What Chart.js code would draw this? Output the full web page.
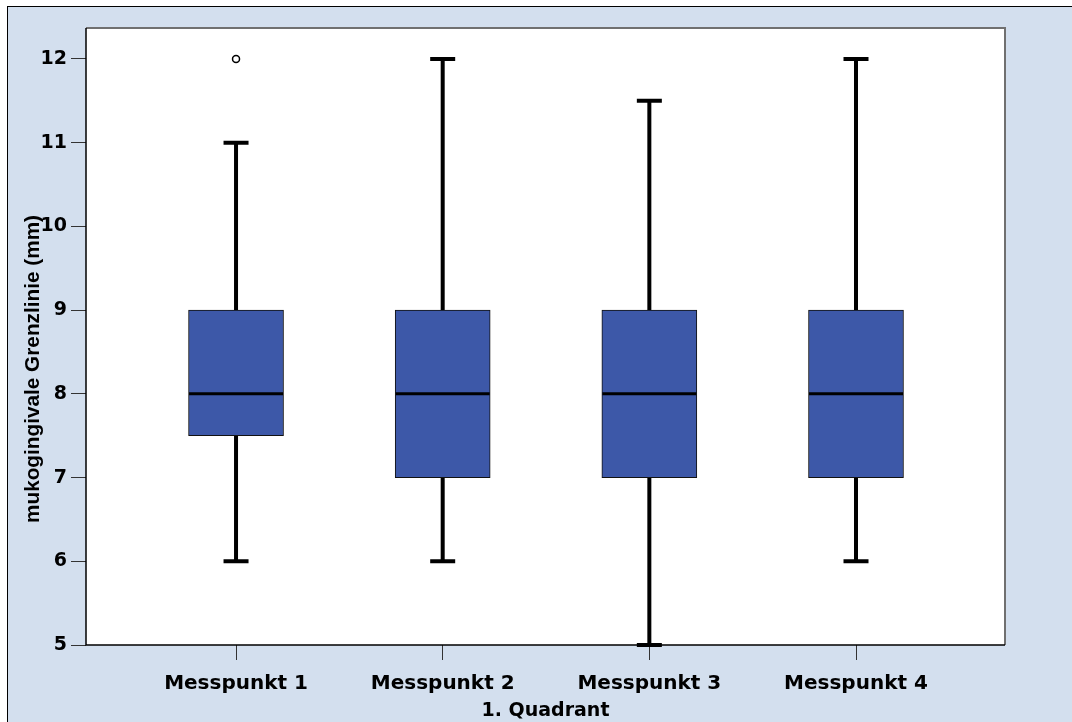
<!DOCTYPE html>
<html>
<head>
<meta charset="utf-8">
<script src="https://cdn.jsdelivr.net/npm/chart.js@4.4.1/dist/chart.umd.min.js"></script>
<style>
  html, body { margin: 0; padding: 0; background: #fff; }
  #wrap { position: relative; width: 1072px; height: 722px; overflow: hidden; }
  #frame { position: absolute; left: 7px; top: 6px; right: -2px; bottom: -2px;
           background: #d3dfee; border-top: 1px solid #000; border-left: 1px solid #000; }
  canvas { position: absolute; left: 0; top: 0; }
</style>
</head>
<body>
<div id="wrap">
  <div id="frame"></div>
  <canvas id="chart" width="1072" height="722"></canvas>
</div>
<script>
// Messpunkt data (mm)
const categories = ['Messpunkt 1', 'Messpunkt 2', 'Messpunkt 3', 'Messpunkt 4'];
const whiskerLow  = [6, 6, 5, 6];
const quartile1   = [7.5, 7, 7, 7];
const medians     = [8, 8, 8, 8];
const quartile3   = [9, 9, 9, 9];
const whiskerHigh = [11, 12, 11.5, 12];
const outliers    = [{ cat: 1, value: 12 }];
const yTicks      = [5, 6, 7, 8, 9, 10, 11, 12];

const xTitle = '1. Quadrant';
const yTitle = 'mukogingivale Grenzlinie (mm)';

const boxColor = '#3d58a8';
const tickFont = { family: '"DejaVu Sans", sans-serif', weight: 'bold', size: 20 };

const boxData = categories.map((c, i) => ({ x: i + 1, y: [quartile1[i], quartile3[i]] }));
const outlierData = outliers.map(o => ({ x: o.cat, y: o.value }));

// plot background, frame, whiskers, medians, y title
const boxPlotParts = {
  id: 'boxPlotParts',
  beforeDatasetsDraw(chart) {
    const { ctx, chartArea: a, scales: { x, y } } = chart;
    ctx.save();
    ctx.fillStyle = '#fff';
    ctx.fillRect(a.left, a.top, a.right - a.left, a.bottom - a.top);
    ctx.strokeStyle = '#000';
    ctx.lineWidth = 4;
    categories.forEach((c, i) => {
      const px = x.getPixelForValue(i + 1);
      ctx.beginPath();
      ctx.moveTo(px, y.getPixelForValue(whiskerLow[i]));
      ctx.lineTo(px, y.getPixelForValue(quartile1[i]));
      ctx.moveTo(px, y.getPixelForValue(quartile3[i]));
      ctx.lineTo(px, y.getPixelForValue(whiskerHigh[i]));
      ctx.stroke();
      ctx.beginPath();
      [whiskerLow[i], whiskerHigh[i]].forEach(v => {
        const py = y.getPixelForValue(v);
        ctx.moveTo(px - 12.5, py);
        ctx.lineTo(px + 12.5, py);
      });
      ctx.stroke();
    });
    ctx.restore();
  },
  afterDatasetsDraw(chart) {
    const { ctx, chartArea: a, scales: { x, y } } = chart;
    ctx.save();
    ctx.strokeStyle = '#000';
    ctx.lineWidth = 3;
    categories.forEach((c, i) => {
      const px = x.getPixelForValue(i + 1);
      const py = y.getPixelForValue(medians[i]);
      ctx.beginPath();
      ctx.moveTo(px - 47, py);
      ctx.lineTo(px + 47, py);
      ctx.stroke();
    });
    // plot frame
    ctx.lineWidth = 2;
    ctx.strokeStyle = '#707070';
    ctx.beginPath();
    ctx.moveTo(a.left, a.top);
    ctx.lineTo(a.right, a.top);
    ctx.lineTo(a.right, a.bottom);
    ctx.stroke();
    ctx.lineWidth = 1.5;
    ctx.strokeStyle = '#000';
    ctx.beginPath();
    ctx.moveTo(a.left, a.top);
    ctx.lineTo(a.left, a.bottom);
    ctx.lineTo(a.right, a.bottom);
    ctx.stroke();
    // y axis title (condensed bold, as in the original)
    ctx.translate(33, 369);
    ctx.rotate(-Math.PI / 2);
    ctx.font = 'bold 21px "Liberation Sans", Arial, sans-serif';
    ctx.fillStyle = '#000';
    ctx.textAlign = 'center';
    ctx.textBaseline = 'middle';
    const w = ctx.measureText(yTitle).width;
    ctx.scale(308 / w, 1);
    ctx.fillText(yTitle, 0, 0);
    ctx.restore();
  }
};

new Chart(document.getElementById('chart'), {
  type: 'bar',
  data: {
    datasets: [{
      label: 'Box',
      data: boxData,
      backgroundColor: boxColor,
      borderColor: '#111',
      borderWidth: 1,
      borderSkipped: false,
      barThickness: 95,
      order: 2
    }, {
      type: 'scatter',
      label: 'Ausreißer',
      data: outlierData,
      pointStyle: 'circle',
      pointRadius: 3.5,
      pointBorderWidth: 1.5,
      pointBackgroundColor: '#fff',
      pointBorderColor: '#000',
      order: 1
    }]
  },
  options: {
    responsive: false,
    animation: false,
    layout: { padding: { left: 0, right: 67, top: 28, bottom: 0 } },
    plugins: { legend: { display: false }, tooltip: { enabled: false } },
    scales: {
      x: {
        type: 'linear',
        offset: false,
        min: 0.274,
        max: 4.721,
        afterBuildTicks: axis => { axis.ticks = categories.map((c, i) => ({ value: i + 1 })); },
        afterFit: axis => { axis.height = 77; },
        grid: { drawOnChartArea: false, offset: false, tickLength: 15, tickColor: '#333', color: '#333' },
        border: { display: false },
        ticks: {
          color: '#000',
          font: tickFont,
          padding: 12,
          maxRotation: 0,
          callback: (v, i) => categories[i]
        },
        title: {
          display: true,
          text: xTitle,
          color: '#000',
          font: { family: '"DejaVu Sans", sans-serif', weight: 'bold', size: 19 },
          padding: { top: 0, bottom: 0 }
        }
      },
      y: {
        min: 5,
        max: 12.37,
        afterBuildTicks: axis => { axis.ticks = yTicks.map(v => ({ value: v })); },
        afterFit: axis => { axis.width = 86; },
        grid: { drawOnChartArea: false, tickLength: 15, tickColor: '#333', color: '#333' },
        border: { display: false },
        ticks: {
          color: '#000',
          font: { family: '"DejaVu Sans", sans-serif', weight: 'bold', size: 19 },
          padding: 4
        }
      }
    }
  },
  plugins: [boxPlotParts]
});
</script>
</body>
</html>
